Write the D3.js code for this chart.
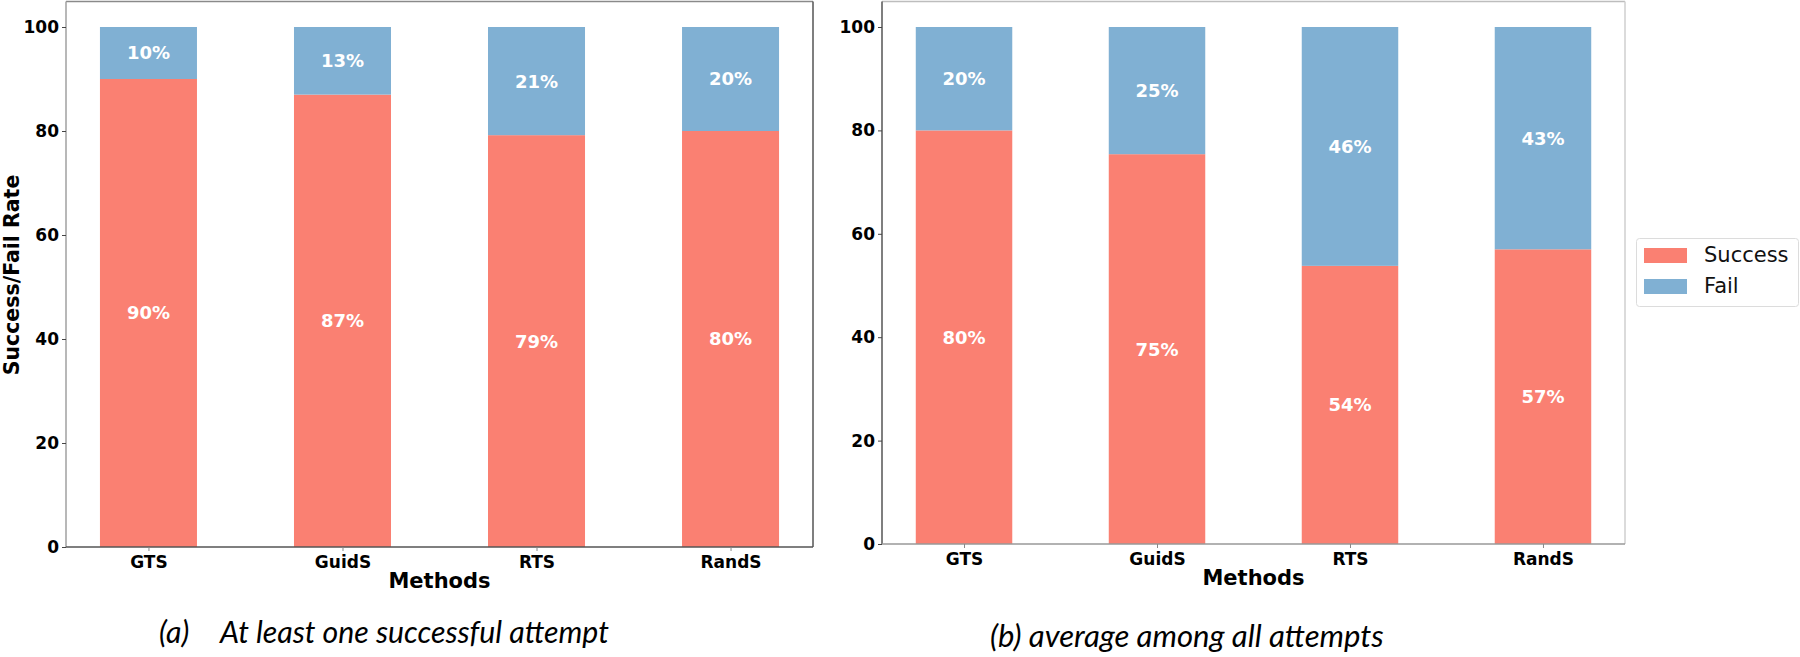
<!DOCTYPE html>
<html>
<head>
<meta charset="utf-8">
<script src="https://cdn.jsdelivr.net/npm/d3@7"></script>
<style>
  html, body { margin: 0; padding: 0; background: #fff; }
  svg { display: block; }
</style>
</head>
<body>
<svg id="chart" width="1800" height="657"></svg>
<script>
// ---- data ----
const methods = ["GTS", "GuidS", "RTS", "RandS"];
const successA = [90, 87, 79.2, 80];
const failA = [10, 13, 20.8, 20];
const successB = [80, 75.4, 53.8, 57];
const failB = [20, 24.6, 46.2, 43];
const yTicks = [0, 20, 40, 60, 80, 100];
const seriesNames = ["Success", "Fail"];
const captionA = ["(a)", "At least one successful attempt"];
const captionB = "(b) average among all attempts";

const colors = { Success: "#FA8072", Fail: "#80B0D3" };
const boldFont = "'DejaVu Sans', sans-serif";
const svg = d3.select("#chart");

function panel(cfg) {
  const x = d3.scaleLinear().domain([-0.425, 3.425]).range([cfg.left, cfg.right]);
  const y = d3.scaleLinear().domain([0, 100]).range([cfg.bottom, cfg.top100]);
  const bw = x(0.25) - x(-0.25);
  const g = svg.append("g");

  const rows = methods.map((m, i) => ({ m, i, s: cfg.success[i], f: cfg.fail[i] }));
  const stack = d3.stack().keys(["s", "f"])(rows);

  stack.forEach((layer, li) => {
    const name = seriesNames[li];
    g.append("g").selectAll("rect").data(layer).join("rect")
      .attr("x", d => x(d.data.i) - bw / 2)
      .attr("width", bw)
      .attr("y", d => y(d[1]))
      .attr("height", d => y(d[0]) - y(d[1]))
      .attr("fill", colors[name]);
    g.append("g").selectAll("text").data(layer).join("text")
      .attr("x", d => x(d.data.i))
      .attr("y", d => (y(d[0]) + y(d[1])) / 2)
      .attr("dy", "0.36em")
      .attr("text-anchor", "middle")
      .attr("fill", "#fff")
      .attr("font-family", boldFont)
      .attr("font-weight", "bold")
      .attr("font-size", 18)
      .text(d => Math.round(d[1] - d[0]) + "%");
  });

  // spines
  const sp = cfg.spines;
  g.append("line").attr("x1", cfg.left).attr("x2", cfg.right).attr("y1", cfg.frameTop).attr("y2", cfg.frameTop).attr("stroke", sp.top).attr("stroke-width", 1.5);
  g.append("line").attr("x1", cfg.right).attr("x2", cfg.right).attr("y1", cfg.frameTop).attr("y2", cfg.bottom).attr("stroke", sp.right).attr("stroke-width", 1.5);

  // y axis
  const ya = g.append("g").attr("transform", `translate(${cfg.left},0)`)
    .call(d3.axisLeft(y).tickValues(yTicks).tickSize(4).tickPadding(3).tickSizeOuter(0));
  ya.select(".domain").attr("stroke", sp.left).attr("stroke-width", 1.5).attr("d", `M0,${cfg.frameTop}V${cfg.bottom}`);
  ya.selectAll(".tick line").attr("stroke", "#444");
  ya.selectAll(".tick text").attr("font-family", boldFont).attr("font-weight", "bold")
    .attr("font-size", 17).attr("fill", "#000");

  // x axis
  const xa = g.append("g").attr("transform", `translate(0,${cfg.bottom})`)
    .call(d3.axisBottom(x).tickValues(d3.range(methods.length)).tickFormat(i => methods[i]).tickSize(4).tickPadding(3).tickSizeOuter(0));
  xa.select(".domain").attr("stroke", sp.bottom).attr("stroke-width", 1.5).attr("d", `M${cfg.left},0H${cfg.right}`);
  xa.selectAll(".tick line").attr("stroke", "#888");
  xa.selectAll(".tick text").attr("font-family", boldFont).attr("font-weight", "bold")
    .attr("font-size", 17).attr("fill", "#000").attr("dy", "0.8em");

  g.append("text")
    .attr("x", (cfg.left + cfg.right) / 2)
    .attr("y", cfg.xLabelY)
    .attr("text-anchor", "middle")
    .attr("font-family", boldFont).attr("font-weight", "bold").attr("font-size", 21)
    .text("Methods");
  return g;
}

panel({ left: 66, right: 813, bottom: 547, top100: 27, frameTop: 1.5,
  success: successA, fail: failA, xLabelY: 588,
  spines: { top: "#8a8a8a", left: "#a0a0a0", right: "#555", bottom: "#555" } });
panel({ left: 882, right: 1625, bottom: 544, top100: 27, frameTop: 1.5,
  success: successB, fail: failB, xLabelY: 585,
  spines: { top: "#bdbdbd", left: "#555", right: "#cfcfcf", bottom: "#999" } });

// y label (only panel a)
svg.append("text")
  .attr("transform", "translate(19,275) rotate(-90)")
  .attr("text-anchor", "middle")
  .attr("font-family", boldFont).attr("font-weight", "bold").attr("font-size", 20.5)
  .text("Success/Fail Rate");

// legend
const lg = svg.append("g");
lg.append("rect").attr("x", 1636.5).attr("y", 238.5).attr("width", 162).attr("height", 68)
  .attr("rx", 3).attr("fill", "#fff").attr("stroke", "#dcdcdc");
seriesNames.forEach((n, i) => {
  lg.append("rect").attr("x", 1644).attr("y", 248 + i * 31).attr("width", 43).attr("height", 15).attr("fill", colors[n]);
  lg.append("text").attr("x", 1704).attr("y", 262 + i * 31)
    .attr("font-family", "'DejaVu Sans', sans-serif").attr("font-size", 21).attr("fill", "#111").text(n);
});

// captions
const capFont = "Lato, 'Open Sans', sans-serif";
function fitText(sel, target) {
  let fs = 24;
  sel.attr("font-size", fs);
  const w = sel.node().getComputedTextLength();
  fs = fs * target / w;
  sel.attr("font-size", fs);
  return fs;
}
const ca1 = svg.append("text").attr("x", 159).attr("y", 643)
  .attr("font-family", capFont).attr("font-style", "italic").attr("fill", "#000").text(captionA[0]);
const ca2 = svg.append("text").attr("x", 220).attr("y", 643)
  .attr("font-family", capFont).attr("font-style", "italic").attr("fill", "#000").text(captionA[1]);
const fsA = fitText(ca2, 389);
ca1.attr("font-size", fsA);
const cb = svg.append("text").attr("x", 990).attr("y", 647)
  .attr("font-family", capFont).attr("font-style", "italic").attr("fill", "#000").text(captionB);
fitText(cb, 394);
</script>
</body>
</html>
